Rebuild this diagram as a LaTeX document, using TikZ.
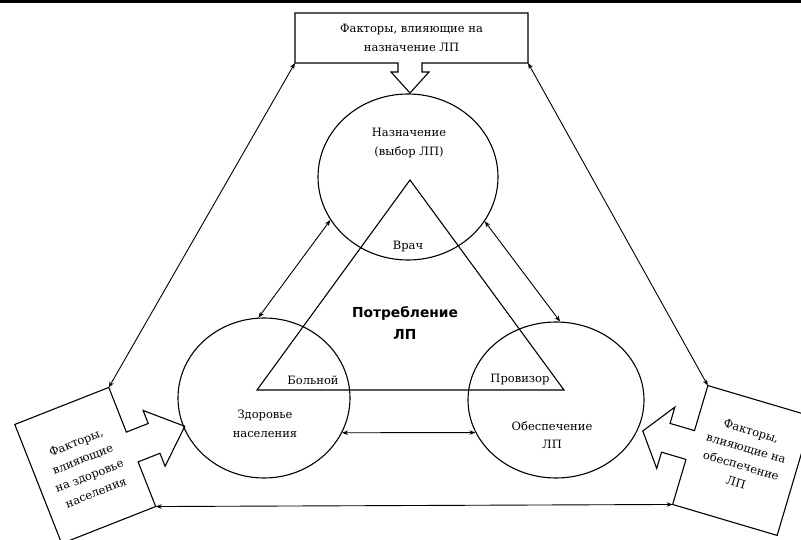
\documentclass[tikz,border=0pt]{standalone}
\usepackage{fontspec}
\setmainfont{DejaVu Serif}
\newfontfamily\headfont{DejaVu Sans}
\usetikzlibrary{shapes.geometric,arrows.meta}

\begin{document}
\begin{tikzpicture}[x=1pt,y=-1pt,
  outline/.style={draw, line width=1.1pt, line join=miter},
  sphere/.style={ellipse, draw, line width=1.1pt, inner sep=0pt},
  link/.style={line width=0.9pt,
    {Stealth[length=6pt,width=4.5pt]}-{Stealth[length=6pt,width=4.5pt]}},
  lbl/.style={font=\fontsize{11.5}{18.5}\selectfont, align=center, inner sep=0pt},
  tilted/.style={font=\fontsize{11.5}{18}\selectfont, align=center, inner sep=0pt},
  core/.style={font=\headfont\bfseries\fontsize{13.8}{21.5}\selectfont, align=center, inner sep=0pt}
]
\useasboundingbox (0,0) rectangle (801,540);
\fill (0,0) rectangle (801,3);

% factors box on top, with its block arrow pointing down
\draw[outline] (295,13) -- (528,13) -- (528,63) -- (422,63) -- (422,72) -- (429,72)
  -- (410,93) -- (391,72) -- (398,72) -- (398,63) -- (295,63) -- cycle;
\coordinate (tf-left) at (295,63);
\coordinate (tf-right) at (528,63);
\node[lbl] (tf-text) at (411.5,38) {Факторы, влияющие на\\назначение ЛП};

% the three spheres
\node[sphere, minimum width=180, minimum height=166] (presc) at (408,177) {};
\node[sphere, minimum width=172, minimum height=160] (health) at (264,398) {};
\node[sphere, minimum width=176, minimum height=156] (supply) at (556,400) {};

% consumption triangle
\coordinate (tri-a) at (410,180);
\coordinate (tri-b) at (257,390);
\coordinate (tri-c) at (564,390);
\draw[line width=1.1pt, line join=miter] (tri-a) -- (tri-b) -- (tri-c) -- cycle;

% factors box at lower left
\begin{scope}[shift={(85.25,465.5)}, rotate=21.5]
  \draw[outline] (-50.5,-64) -- (50.5,-64) -- (50.5,-16) -- (74,-16) -- (74,-30)
    -- (107,0) -- (74,30) -- (74,16) -- (50.5,16) -- (50.5,64) -- (-50.5,64) -- cycle;
  \coordinate (hf-top) at (50.5,-64);
  \coordinate (hf-right) at (50.5,64);
  \node[tilted, rotate=21.5] (hf-text) at (0,2) {Факторы,\\влияющие\\на здоровье\\населения};
\end{scope}

% factors box at lower right
\begin{scope}[shift={(742.5,460.5)}, rotate=-16.5]
  \draw[outline] (-54.5,-62) -- (54.5,-62) -- (54.5,62) -- (-54.5,62) -- (-54.5,15)
    -- (-80,15) -- (-80,32) -- (-104,0) -- (-80,-32) -- (-80,-15) -- (-54.5,-15) -- cycle;
  \coordinate (sf-top) at (-54.5,-62);
  \coordinate (sf-left) at (-54.5,62);
  \node[tilted, rotate=-16.5] (sf-text) at (0,-4) {Факторы,\\влияющие на\\обеспечение\\ЛП};
\end{scope}

% labels
\node[lbl] (presc-text) at (409,143) {Назначение\\(выбор ЛП)};
\node[lbl] (doctor) at (408,247) {Врач};
\node[core] (consume) at (405,323) {Потребление\\ЛП};
\node[lbl] (patient) at (313,380) {Больной};
\node[lbl] (pharm) at (520,380) {Провизор};
\node[lbl] (health-text) at (265,424) {Здоровье\\населения};
\node[lbl] (supply-text) at (552,435) {Обеспечение\\ЛП};

% connectors
\draw[link] (tf-left) -- (hf-top);
\draw[link] (tf-right) -- (sf-top);
\draw[link] (hf-right) -- (sf-left);
\draw[link] (presc.209) -- (health.94);
\draw[link] (presc.330) -- (supply.87);
\draw[link] (health.336) -- (supply.202.5);
\end{tikzpicture}
\end{document}
